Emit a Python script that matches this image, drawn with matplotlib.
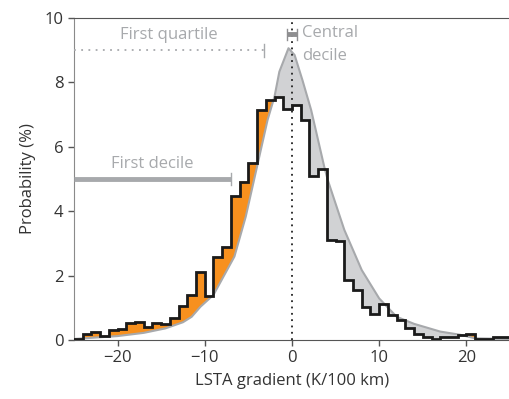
import matplotlib.pyplot as plt
import numpy as np

# Histogram of observed LSTA gradients (bin width 1 K/100 km)
bin_left = list(range(-25, 25))
hist_prob = [0.03, 0.17, 0.25, 0.13, 0.30, 0.34, 0.53, 0.56, 0.40, 0.52,
             0.48, 0.68, 1.04, 1.40, 2.11, 1.36, 2.58, 2.89, 4.47, 4.92,
             5.50, 7.15, 7.44, 7.55, 7.17, 7.29, 6.84, 5.09, 5.31, 3.10,
             3.07, 1.85, 1.55, 1.02, 0.80, 1.13, 0.78, 0.62, 0.38, 0.17,
             0.10, 0.04, 0.08, 0.09, 0.14, 0.19, 0.04, 0.04, 0.09, 0.09]

# Reference (grey) distribution
ref_x = [-25, -20, -17, -14.5, -12.5, -11.5, -10.5, -9, -6.6, -5.3, -3.75,
         -2.8, -2, -1.45, -0.4, 0.3, 1.2, 2.2, 3.7, 4.1, 6, 8, 10, 12, 14,
         17, 19.3, 21, 25]
ref_prob = [0.03, 0.12, 0.22, 0.36, 0.55, 0.72, 1.03, 1.40, 2.59, 3.83, 5.69,
            6.83, 7.56, 8.33, 9.06, 8.85, 8.07, 7.14, 5.38, 4.97, 3.42, 2.17,
            1.29, 0.72, 0.50, 0.26, 0.16, 0.05, 0.03]

orange = '#f7901e'
grey_fill = '#d1d2d4'
grey_line = '#a7a9ac'
text_grey = '#a7a9ac'

plt.rcParams['font.family'] = ['Open Sans', 'DejaVu Sans']
plt.rcParams['font.size'] = 12

fig = plt.figure(figsize=(5.10, 3.99), dpi=100)
ax = fig.add_axes([0.145, 0.148, 0.855, 0.807])

# fills between the step histogram and the reference curve
edges = np.array(bin_left + [bin_left[-1] + 1], dtype=float)
xx = np.linspace(-25, 25, 5001)
idx = np.clip(np.searchsorted(edges, xx, side='right') - 1, 0, len(hist_prob) - 1)
hh = np.array(hist_prob)[idx]
cc = np.interp(xx, ref_x, ref_prob)
ax.fill_between(xx, cc, hh, where=hh >= cc, color=orange, lw=0, interpolate=True, zorder=1)
ax.fill_between(xx, cc, hh, where=hh <= cc, color=grey_fill, lw=0, interpolate=True, zorder=1)

ax.plot(ref_x, ref_prob, color=grey_line, lw=1.5, zorder=2)
ax.stairs(hist_prob, edges, color='#1a1a1a', lw=2, zorder=3)

# zero line
ax.axvline(0, color='#222222', lw=1.3, ls=(0, (1, 2.5)), zorder=4)

# annotations
ax.plot([-25, -3.2], [9, 9], color=text_grey, lw=1.3, ls=(0, (1, 3)), zorder=4)
ax.plot([-3.2, -3.2], [8.8, 9.2], color=text_grey, lw=1)
ax.text(-14.1, 9.47, 'First quartile', color=text_grey, ha='center', va='center')

ax.plot([-25, -7.0], [5, 5], color=text_grey, lw=3.5, solid_capstyle='butt', zorder=4)
ax.plot([-7.0, -7.0], [4.8, 5.2], color=text_grey, lw=1)
ax.text(-16, 5.45, 'First decile', color=text_grey, ha='center', va='center')

ax.plot([-0.55, 0.55], [9.5, 9.5], color='#8e8e90', lw=3.5, solid_capstyle='butt', zorder=5)
ax.plot([-0.6, -0.6], [9.33, 9.67], color='#8e8e90', lw=1, zorder=5)
ax.plot([0.6, 0.6], [9.33, 9.67], color='#8e8e90', lw=1, zorder=5)
ax.text(1.2, 9.52, 'Central', color=text_grey, ha='left', va='center')
ax.text(1.2, 8.82, 'decile', color=text_grey, ha='left', va='center')

ax.set_xlim(-25, 25)
ax.set_ylim(0, 10)
ax.set_xticks([-20, -10, 0, 10, 20])
ax.set_xticklabels(['\u221220', '\u221210', '0', '10', '20'])
ax.set_yticks([0, 2, 4, 6, 8, 10])
ax.set_xlabel('LSTA gradient (K/100 km)', color='#333333', labelpad=5)
ax.set_ylabel('Probability (%)', color='#333333', labelpad=6)

ax.spines['right'].set_visible(False)
ax.spines['left'].set_color('#8a8a8a')
ax.spines['top'].set_color('#555555')
ax.spines['bottom'].set_color('#555555')
ax.tick_params(axis='both', colors='#555555', labelcolor='#333333', length=4, width=1)

fig.savefig('out.png', dpi=100)
